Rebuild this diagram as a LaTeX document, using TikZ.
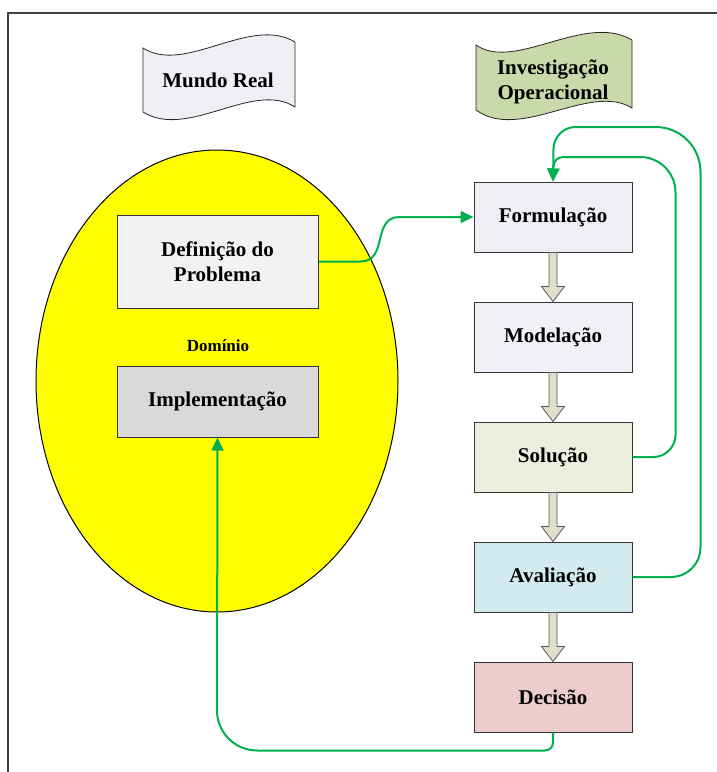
\documentclass[tikz,border=0pt]{standalone}
\usepackage{fontspec}
\setmainfont{Liberation Serif}
\usetikzlibrary{arrows.meta, calc}
\definecolor{loopgreen}{HTML}{00B050}
\definecolor{arrowfill}{HTML}{DFDFCB}
\definecolor{realfill}{HTML}{EEF0F5}
\definecolor{iofill}{HTML}{CAD9AA}
\definecolor{domfill}{HTML}{FFFF00}
\tikzset{
  boxtext/.style = {font=\fontsize{21}{25}\selectfont\bfseries, align=center},
  stepbox/.style = {boxtext, draw=black!80, line width=1pt, minimum width=158pt, minimum height=70pt},
  leftbox/.style = {boxtext, draw=black!80, line width=1pt, minimum width=201pt},
  loopline/.style = {draw=loopgreen, line width=2pt, -{Triangle[length=13pt,width=12pt]}},
  hollow/.style = {draw=black!65, fill=arrowfill, line width=0.8pt}
}

\begin{document}
\begin{tikzpicture}[x=1pt, y=-1pt]
\useasboundingbox (0,0) rectangle (717,772);
\draw[black!75, line width=1.5pt] (717,13) -- (8,13) -- (8,772);

% banners
\draw[black!85, line width=0.8pt, fill=realfill] (143,48) .. controls (185,75) and (250,15) .. (295,42)
  -- (295,107) .. controls (253,80) and (188,140) .. (143,112) -- cycle;
\node[boxtext] (real) at (218,80) {Mundo Real};
\draw[black!85, line width=0.8pt, fill=iofill] (476,45) .. controls (515,72) and (585,12) .. (632,40)
  -- (632,108) .. controls (590,82) and (520,142) .. (476,110) -- cycle;
\node[boxtext] (io) at (553,82) {Investigação\\Operacional};

% dominio
\draw[black, line width=1pt, fill=domfill] (217,381) ellipse (181 and 231);
\node[leftbox, fill=black!5, minimum height=93pt] (def) at (217.5,261.5) {Definição do\\Problema};
\node[font=\fontsize{17}{20}\selectfont\bfseries] (dom) at (218,346) {Domínio};
\node[leftbox, fill=black!15, minimum height=71pt] (imp) at (217.5,401.5) {Implementação};

% etapas
\node[stepbox, fill={rgb,255:red,240;green,238;blue,245}] (form) at (553,217) {Formulação};
\node[stepbox, fill={rgb,255:red,239;green,241;blue,247}] (mod) at (553,337) {Modelação};
\node[stepbox, fill={rgb,255:red,235;green,240;blue,222}] (sol) at (553,457) {Solução};
\node[stepbox, fill={rgb,255:red,211;green,234;blue,240}] (aval) at (553,577) {Avaliação};
\node[stepbox, fill={rgb,255:red,238;green,204;blue,203}] (dec) at (553,697) {Decisão};

\foreach \a/\b in {form/mod, mod/sol, sol/aval, aval/dec}
  \draw[hollow] ($(\a.south)+(-4,0)$) -- ($(\b.north)+(-4,-15)$) -- ++(-7.5,0) -- (\b.north)
    -- ++(11.5,-15) -- ++(-7.5,0) -- ($(\a.south)+(4,0)$) -- cycle;

% ligacoes
\draw[loopline] (def.east) -- ++(42,0) .. controls +(28,0) and +(-28,0) .. ($(form.west)+(-74,0)$) -- (form.west);
\draw[loopline] (sol.east) -- ++(21,0) .. controls +(12,0) and +(0,12) .. ++(22,-22)
  -- ++(0,-243) .. controls +(0,-19) and +(19,0) .. ++(-35,-35)
  -- ++(-77,0) .. controls +(-6,0) and +(0,-6) .. ++(-10,10) -- (form.north);
\draw[loopline] (aval.east) -- ++(38,0) .. controls +(17,0) and +(0,17) .. ++(30,-30)
  -- ++(0,-375) .. controls +(0,-25) and +(25,0) .. ++(-45,-45)
  -- ++(-80,0) .. controls +(-12,0) and +(0,-12) .. ++(-22,22) -- (form.north);
\draw[loopline] (dec.south) -- ++(0,10) .. controls +(0,4.5) and +(4.5,0) .. ++(-8,8)
  -- ++(-288,0) .. controls +(-22,0) and +(0,22) .. ++(-40,-40) -- (imp.south);
\end{tikzpicture}
\end{document}
